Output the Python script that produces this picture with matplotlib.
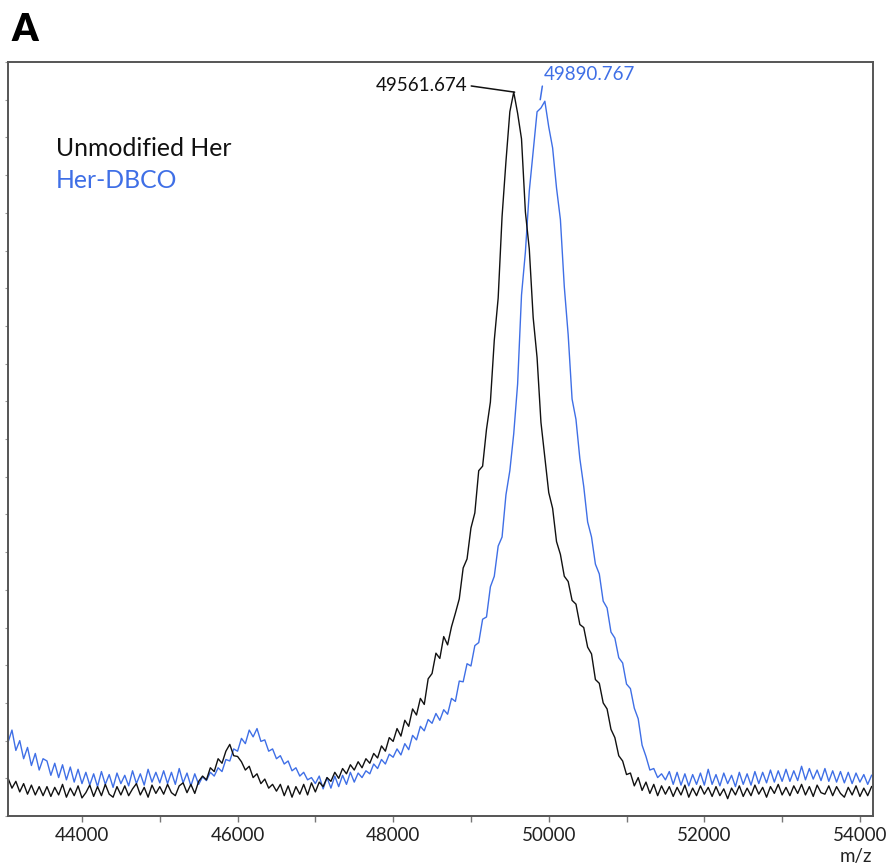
import numpy as np
import matplotlib
matplotlib.use('Agg')
import matplotlib.pyplot as plt
from matplotlib.ticker import MultipleLocator

# m/z sampling of the two deconvoluted spectra (step 50)
mz = np.arange(43050, 54151, 50)

# unmodified Her, relative intensity
unmodified = [
    5.0, 3.7, 4.6, 3.2, 4.3, 2.9, 4.1, 2.8, 3.9, 2.7,
    3.9, 2.6, 3.8, 2.8, 4.2, 2.5, 3.7, 2.7, 4.0, 2.4,
    3.1, 4.1, 2.6, 3.9, 2.7, 4.2, 2.9, 2.5, 3.9, 2.8,
    4.0, 2.7, 3.6, 4.3, 2.8, 3.8, 2.5, 4.1, 3.0, 3.9,
    2.9, 4.2, 3.1, 2.7, 4.0, 4.4, 3.1, 4.2, 3.0, 4.6,
    5.3, 4.8, 6.4, 5.9, 7.6, 7.0, 8.6, 9.5, 8.0, 7.9,
    7.2, 6.1, 6.6, 5.1, 5.6, 4.3, 4.9, 3.7, 4.2, 3.3,
    4.2, 2.7, 4.0, 2.5, 3.9, 2.9, 4.2, 2.8, 4.4, 3.2,
    4.5, 3.9, 5.1, 4.6, 5.8, 5.0, 6.3, 5.6, 6.8, 6.1,
    7.2, 6.4, 7.6, 7.0, 8.3, 7.7, 9.3, 8.6, 10.4, 9.9,
    11.6, 10.6, 12.7, 11.9, 14.2, 13.4, 15.6, 14.8, 18.2, 18.9,
    21.6, 20.9, 23.8, 22.7, 25.1, 26.9, 28.8, 32.9, 34.1, 38.2,
    40.2, 45.8, 46.4, 51.3, 54.9, 63.1, 68.7, 79.5, 86.8, 93.4,
    96.0, 93.2, 89.8, 80.1, 75.2, 66.1, 60.8, 52.2, 47.5, 42.9,
    40.8, 36.4, 34.7, 31.8, 31.1, 28.6, 28.1, 25.4, 25.0, 22.4,
    21.5, 18.1, 17.6, 15.0, 14.2, 11.5, 10.4, 8.0, 7.3, 5.5,
    5.7, 4.0, 5.1, 3.4, 4.5, 3.0, 4.2, 2.7, 4.0, 2.9,
    3.9, 2.6, 3.8, 2.8, 4.1, 2.5, 3.7, 2.7, 4.0, 2.9,
    3.8, 2.6, 3.9, 2.7, 3.6, 2.3, 3.7, 2.8, 4.0, 2.6,
    3.7, 2.7, 4.1, 2.9, 3.8, 2.5, 3.9, 3.0, 4.2, 2.8,
    3.8, 2.7, 4.0, 3.0, 4.2, 2.8, 3.9, 2.6, 4.1, 3.1,
    2.9, 4.0, 2.7, 3.9, 3.0, 2.5, 3.8, 2.8, 4.0, 2.6,
    3.7, 2.7, 3.9,
]

# Her-DBCO, relative intensity
dbco = [
    9.8, 11.4, 8.7, 10.0, 7.6, 9.1, 6.7, 8.3, 6.1, 7.6,
    7.3, 5.4, 7.0, 5.1, 6.8, 4.8, 6.5, 4.5, 6.2, 4.3,
    5.8, 4.1, 5.6, 3.9, 5.9, 4.2, 5.5, 3.8, 5.7, 4.3,
    5.4, 4.0, 6.0, 4.3, 5.6, 4.1, 6.2, 4.5, 5.8, 4.4,
    6.0, 4.3, 5.8, 4.2, 6.3, 4.4, 5.7, 4.0, 5.6, 4.2,
    5.2, 4.7, 5.8, 5.3, 6.4, 5.9, 7.5, 7.3, 8.9, 8.6,
    10.3, 9.6, 11.4, 10.5, 11.6, 9.9, 10.1, 8.6, 8.9, 7.6,
    8.0, 6.9, 7.3, 6.0, 6.4, 5.3, 5.8, 4.8, 5.1, 4.3,
    5.3, 3.6, 5.1, 3.7, 5.3, 3.9, 5.4, 4.2, 5.8, 4.5,
    5.7, 5.1, 6.0, 5.6, 6.9, 6.3, 7.5, 6.9, 8.2, 7.8,
    8.9, 8.1, 9.6, 8.8, 10.7, 10.1, 11.9, 11.3, 12.8, 12.3,
    13.6, 12.7, 14.1, 13.5, 15.6, 15.2, 17.9, 17.8, 20.2, 19.9,
    22.6, 23.0, 26.1, 26.4, 30.4, 31.8, 35.8, 37.0, 42.6, 45.8,
    50.7, 57.3, 69.1, 74.8, 82.9, 88.2, 93.4, 93.9, 94.8, 91.4,
    88.6, 83.3, 79.1, 70.2, 63.8, 55.3, 52.6, 47.4, 43.7, 39.0,
    37.0, 33.4, 32.1, 28.5, 27.6, 24.4, 23.6, 21.0, 20.3, 17.5,
    16.9, 14.3, 12.9, 9.4, 7.9, 6.1, 6.3, 5.1, 5.6, 4.8,
    5.9, 4.2, 5.8, 4.1, 5.6, 4.0, 5.5, 4.2, 5.7, 4.1,
    6.2, 4.2, 5.5, 4.0, 5.7, 4.3, 5.4, 3.9, 5.8, 4.2,
    5.6, 4.1, 5.9, 4.3, 5.8, 4.4, 6.1, 4.5, 6.0, 4.6,
    6.2, 4.6, 6.0, 4.7, 6.6, 4.8, 6.3, 4.9, 6.1, 4.7,
    6.3, 4.6, 6.0, 4.5, 5.9, 4.4, 5.8, 4.3, 5.7, 4.5,
    5.5, 4.2, 5.4,
]

peak_unmod = 49561.674
peak_dbco = 49890.767

black = '#111111'
blue = '#3f6fe6'
font = ['Lato', 'DejaVu Sans']

fig = plt.figure(figsize=(8.88, 8.66), dpi=100)
ax = fig.add_axes([0.009, 0.0577, 0.974, 0.8707])

ax.plot(mz, dbco, color=blue, lw=1.0)
ax.plot(mz, unmodified, color=black, lw=1.0)

ax.set_xlim(43049, 54167)
ax.set_ylim(0, 100)

# peak labels
ax.annotate(f'{peak_unmod:.3f}', xy=(peak_unmod, 96.0), xytext=(48950, 96.9),
            ha='right', va='center', fontsize=13.5, color=black, family=font,
            arrowprops=dict(arrowstyle='-', color=black, lw=1.1,
                            shrinkA=1, shrinkB=0, relpos=(1, 0.5)))
ax.annotate(f'{peak_dbco:.3f}', xy=(peak_dbco, 95.0), xytext=(49930, 98.3),
            ha='left', va='center', fontsize=13.5, color=blue, family=font,
            arrowprops=dict(arrowstyle='-', color=blue, lw=1.1,
                            shrinkA=0, shrinkB=0, relpos=(0, 0.2)))

# legend as plain text
ax.text(0.055, 0.885, 'Unmodified Her', transform=ax.transAxes, fontsize=17.8,
        color=black, family=font, va='center')
ax.text(0.055, 0.843, 'Her-DBCO', transform=ax.transAxes, fontsize=17.8,
        color=blue, family=font, va='center')

for s in ax.spines.values():
    s.set_color('#555555')
    s.set_linewidth(1.4)

ax.xaxis.set_major_locator(MultipleLocator(2000))
ax.xaxis.set_minor_locator(MultipleLocator(1000))
ax.tick_params(axis='x', which='both', direction='out', length=4, width=1,
               color='#777777', labelsize=13.5, labelcolor='#222222', pad=4)
for lab in ax.get_xticklabels():
    lab.set_family(font)
ax.yaxis.set_major_locator(MultipleLocator(5))
ax.tick_params(axis='y', which='both', direction='out', length=2, width=0.8,
               color='#999999', labelleft=False)

fig.text(0.982, 0.011, 'm/z', ha='right', va='center', fontsize=13.5,
         color='#222222', family=font)
fig.text(0.013, 0.965, 'A', ha='left', va='center', fontsize=27,
         weight='heavy', family=font)

fig.savefig('out.png', dpi=100)
